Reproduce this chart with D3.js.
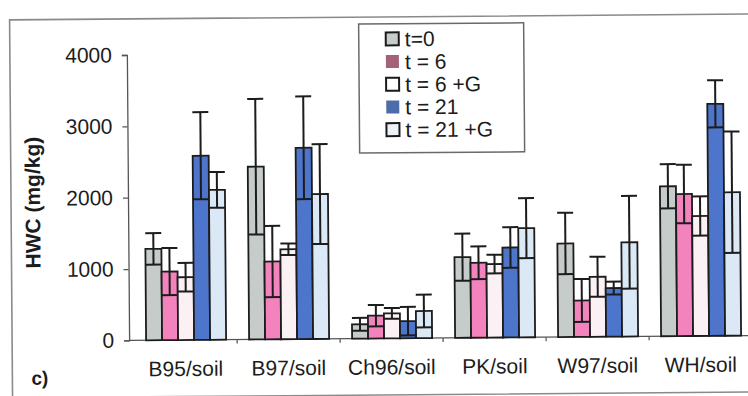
<!DOCTYPE html>
<html>
<head>
<meta charset="utf-8">
<script src="https://cdn.jsdelivr.net/npm/d3@7"></script>
<style>
  html, body { margin: 0; padding: 0; background: #fff; }
  svg { display: block; font-family: Arial, 'Liberation Sans', sans-serif; }
</style>
</head>
<body>
<div id="chart"></div>
<script>
const categories = ['B95/soil', 'B97/soil', 'Ch96/soil', 'PK/soil', 'W97/soil', 'WH/soil'];
const series = ['t=0', 't = 6', 't = 6 +G', 't = 21', 't = 21 +G'];

// mean HWC (mg/kg) per series, same order as categories
const t0 = [1280, 2420, 200, 1130, 1310, 2100];
const t6 = [960, 1090, 320, 1050, 510, 1990];
const t6G = [880, 1260, 350, 1030, 840, 1680];
const t21 = [2580, 2680, 240, 1260, 680, 3250];
const t21G = [2100, 2030, 380, 1530, 1320, 2010];

// error bar half-widths
const e0 = [220, 950, 90, 330, 430, 310];
const e6 = [330, 500, 150, 230, 300, 410];
const e6G = [200, 80, 75, 130, 280, 275];
const e21 = [610, 720, 200, 285, 90, 330];
const e21G = [250, 700, 230, 420, 650, 850];

const yTicks = [0, 1000, 2000, 3000, 4000];

const values = [t0, t6, t6G, t21, t21G];
const errors = [e0, e6, e6G, e21, e21G];
const fills = ['#c5ccc9', '#f383bd', '#fbf0f3', '#4d75cc', '#dbe8f5'];
const swatch = [
  { fill: '#c5ccc9', stroke: '#1a1a1a' },
  { fill: '#a5617a', stroke: 'none' },
  { fill: '#ffffff', stroke: '#1a1a1a' },
  { fill: '#4e6cab', stroke: 'none' },
  { fill: '#eef2f6', stroke: '#1a1a1a' },
];

const width = 748, height = 396;
const ink = '#1c1c1c';

const svg = d3.select('#chart').append('svg')
  .attr('width', width)
  .attr('height', height);

// the scanned figure sits slightly tilted
const el = svg.append('g')
  .attr('transform', 'rotate(-0.45, 374, 198)');

// outer frame
el.append('rect')
  .attr('x', 11).attr('y', 17)
  .attr('width', 770).attr('height', 378)
  .attr('fill', 'none')
  .attr('stroke', '#8a8a8a')
  .attr('stroke-width', 1.6);

const x0 = d3.scaleBand()
  .domain(categories)
  .range([133, 751]);

const x1 = d3.scaleBand()
  .domain(series)
  .range([12, 92]);

const y = d3.scaleLinear()
  .domain([0, 4000])
  .range([338.5, 53]);

// y axis
const yAxis = d3.axisLeft(y)
  .tickValues(yTicks)
  .tickSize(5)
  .tickPadding(10)
  .tickFormat(d3.format('d'));

const ya = el.append('g')
  .attr('transform', 'translate(128, 0)')
  .call(yAxis);
ya.select('.domain').attr('stroke', '#555').attr('stroke-width', 1.3);
ya.selectAll('.tick line').attr('stroke', '#555').attr('stroke-width', 1.3);
ya.selectAll('text')
  .attr('font-size', '21px')
  .attr('fill', ink);

// x axis: line with ticks at the category boundaries
el.append('line')
  .attr('x1', 128).attr('x2', 760)
  .attr('y1', y(0)).attr('y2', y(0))
  .attr('stroke', '#555')
  .attr('stroke-width', 1.3);

el.selectAll('.xtick')
  .data(categories)
  .enter().append('line')
  .attr('class', 'xtick')
  .attr('x1', (d) => x0(d) + x0.bandwidth())
  .attr('x2', (d) => x0(d) + x0.bandwidth())
  .attr('y1', y(0))
  .attr('y2', y(0) + 4)
  .attr('stroke', '#555')
  .attr('stroke-width', 1.2);

const xa = el.append('g')
  .attr('transform', `translate(0, ${y(0)})`)
  .call(d3.axisBottom(x0).tickSize(0));
xa.select('.domain').remove();
xa.selectAll('text')
  .attr('y', 36)
  .attr('dy', 0)
  .attr('font-size', '21px')
  .attr('fill', ink);

// bars
const groups = el.selectAll('.group')
  .data(categories)
  .enter().append('g')
  .attr('class', 'group')
  .attr('transform', (d) => `translate(${x0(d)}, 0)`);

const bw = x1.bandwidth();

series.forEach((s, si) => {
  groups.append('rect')
    .attr('x', x1(s))
    .attr('y', (d, ci) => y(values[si][ci]))
    .attr('width', bw)
    .attr('height', (d, ci) => y(0) - y(values[si][ci]))
    .attr('fill', fills[si])
    .attr('stroke', ink)
    .attr('stroke-width', 1.8);
});

// error bars
series.forEach((s, si) => {
  const cx = x1(s) + bw / 2;
  const hi = (ci) => y(values[si][ci] + errors[si][ci]);
  const lo = (ci) => y(Math.max(0, values[si][ci] - errors[si][ci]));

  groups.append('line')
    .attr('x1', cx).attr('x2', cx)
    .attr('y1', (d, ci) => hi(ci))
    .attr('y2', (d, ci) => lo(ci))
    .attr('stroke', ink)
    .attr('stroke-width', 2);

  groups.append('line')
    .attr('x1', x1(s)).attr('x2', x1(s) + bw)
    .attr('y1', (d, ci) => hi(ci))
    .attr('y2', (d, ci) => hi(ci))
    .attr('stroke', ink)
    .attr('stroke-width', 2);

  groups.append('line')
    .attr('x1', x1(s)).attr('x2', x1(s) + bw)
    .attr('y1', (d, ci) => lo(ci))
    .attr('y2', (d, ci) => lo(ci))
    .attr('stroke', ink)
    .attr('stroke-width', 2);
});

// y title
el.append('text')
  .attr('transform', 'translate(40, 200) rotate(-90)')
  .attr('text-anchor', 'middle')
  .attr('font-size', '21px')
  .attr('font-weight', 'bold')
  .attr('fill', ink)
  .text('HWC (mg/kg)');

// panel label
el.append('text')
  .attr('x', 30)
  .attr('y', 382)
  .attr('font-size', '19px')
  .attr('font-weight', 'bold')
  .attr('fill', ink)
  .text('c)');

// legend
const legend = el.append('g')
  .attr('transform', 'translate(360, 24)');

legend.append('rect')
  .attr('width', 165)
  .attr('height', 129)
  .attr('fill', '#fff')
  .attr('stroke', '#6a6a6a')
  .attr('stroke-width', 1.5);

const rows = legend.selectAll('.row')
  .data(series)
  .enter().append('g')
  .attr('class', 'row')
  .attr('transform', (d, i) => `translate(27, ${15 + i * 22.7})`);

rows.append('rect')
  .attr('x', 0)
  .attr('y', -6.5)
  .attr('width', 13)
  .attr('height', 13)
  .attr('fill', (d, i) => swatch[i].fill)
  .attr('stroke', (d, i) => swatch[i].stroke)
  .attr('stroke-width', 2);

rows.append('text')
  .attr('x', 19)
  .attr('y', 7.5)
  .attr('font-size', '21px')
  .attr('fill', ink)
  .text((d) => d);
</script>
</body>
</html>
